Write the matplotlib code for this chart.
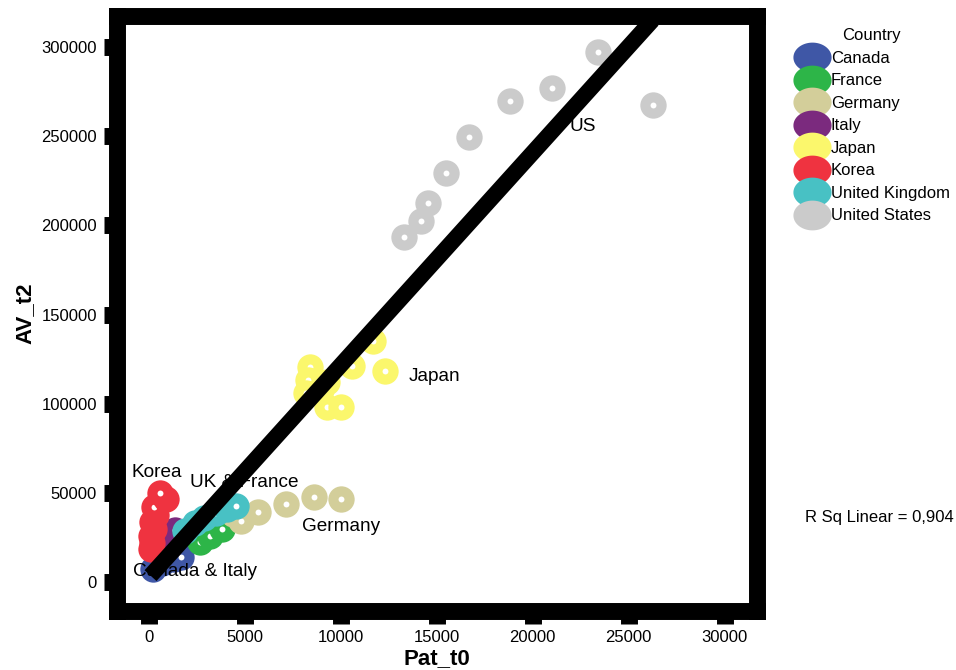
import matplotlib
matplotlib.use("Agg")
import matplotlib.pyplot as plt
import numpy as np
from matplotlib.path import Path
from matplotlib.lines import Line2D

plt.rcParams['font.family'] = ['Liberation Sans', 'DejaVu Sans']

# data (Pat_t0, AV_t2)
countries = ['Canada', 'France', 'Germany', 'Italy', 'Japan', 'Korea',
             'United Kingdom', 'United States']
colors = ['#3F57A6', '#2DB548', '#D3CE9A', '#7B2A7E', '#FBF76C', '#EF3340',
          '#48C1C4', '#CBCBCB']

pat = {
    'Canada': [250, 700, 1300, 1700],
    'France': [2700, 3200, 3800],
    'Germany': [4400, 4800, 5700, 7150, 8600, 10000],
    'Italy': [1100, 1200, 1350],
    'Japan': [8400, 8300, 8200, 9000, 9300, 10600, 11700, 12300, 9300, 10000],
    'Korea': [150, 200, 100, 300, 200, 400, 300, 900, 600],
    'United Kingdom': [1900, 2400, 2900, 3500, 4100, 4550],
    'United States': [13300, 14200, 14550, 15500, 16700, 18800, 21000, 23400, 26250],
}
av = {
    'Canada': [7500, 11000, 13000, 14000],
    'France': [22500, 26000, 30000],
    'Germany': [38500, 34500, 39500, 43800, 48000, 46500],
    'Italy': [21000, 25500, 29500],
    'Japan': [120500, 113500, 106000, 108000, 112000, 121000, 135000, 118500, 98500, 98500],
    'Korea': [18500, 22000, 26000, 30000, 34000, 38000, 42000, 46500, 50000],
    'United Kingdom': [29000, 33000, 36000, 39000, 41000, 42800],
    'United States': [193700, 202600, 212700, 229100, 249300, 269800, 277000, 296900, 267400],
}

labels = ['Korea', 'UK & France', 'Germany', 'Canada & Italy', 'Japan', 'US']
label_x = [-910, 2160, 7990, -810, 13570, 21950]
label_y = [61300, 55700, 31100, 5900, 115600, 255600]

# linear fit
fit_slope = 11.9
fit_intercept = 2600
r_sq = '0,904'

fig = plt.figure(figsize=(9.56, 6.70), dpi=100)
ax = fig.add_axes([0.1219, 0.0881, 0.6695, 0.8873])

# each point drawn with its small white centre, so later points cover it
for c, col in zip(countries, colors):
    for x, y in zip(pat[c], av[c]):
        ax.scatter([x], [y], s=360, color=col, linewidths=0, zorder=2)
        ax.scatter([x], [y], s=18, color='white', linewidths=0, zorder=2)

for t, x, y in zip(labels, label_x, label_y):
    ax.text(x, y, t, fontsize=13.7, va='center', ha='left', zorder=3)

allx = np.concatenate([pat[c] for c in countries])
xs = np.array([allx.min(), allx.max()])
ax.plot(xs, fit_intercept + fit_slope * xs, color='black', lw=11.6,
        solid_capstyle='butt', zorder=4)

ax.set_xlim(-1670, 31670)
ax.set_ylim(-16000, 317000)
ax.set_xticks(np.arange(0, 30001, 5000))
ax.set_yticks(np.arange(0, 300001, 50000))
for sp in ax.spines.values():
    sp.set_linewidth(12.2)
    sp.set_zorder(5)
ax.tick_params(direction='out', length=9.7, width=12.2, labelsize=12, pad=4.3)
ax.set_xlabel('Pat_t0', fontsize=16, fontweight='bold', labelpad=2)
ax.set_ylabel('AV_t2', fontsize=16, fontweight='bold')

# legend with oval markers
th = np.linspace(0, 2 * np.pi, 60)
oval = Path(np.column_stack([np.cos(th), 0.78 * np.sin(th)]), closed=True)
handles = [Line2D([], [], linestyle='none', marker=oval, markersize=27.5,
                  markerfacecolor=col, markeredgewidth=0) for col in colors]
fig.legend(handles, countries, title='Country', loc='upper left',
           bbox_to_anchor=(0.8177, 0.975), frameon=False, fontsize=12,
           title_fontsize=12, handlelength=2.25, handletextpad=0.0,
           labelspacing=0.45, borderpad=0.2)

fig.text(0.842, 0.228, 'R Sq Linear = ' + r_sq, fontsize=12, va='center')

fig.savefig('out.png', dpi=100)
